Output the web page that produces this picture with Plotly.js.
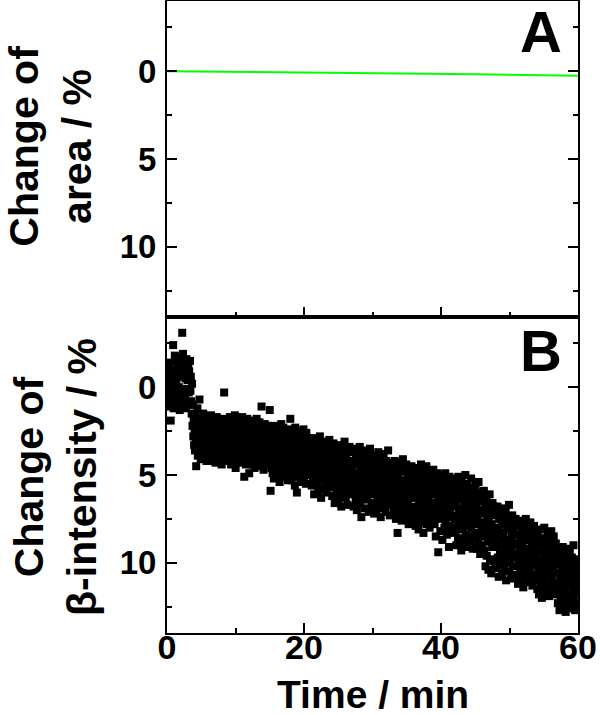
<!DOCTYPE html>
<html>
<head>
<meta charset="utf-8">
<script src="https://cdn.plot.ly/plotly-3.0.1.min.js"></script>
<style>html,body{margin:0;padding:0;background:#fff;}#chart{width:600px;height:715px;}</style>
</head>
<body>
<div id="chart"></div>
<script>
// Panel A: change of area (%) vs time (min)
var areaTime = [0, 15, 30, 45, 60];
var areaChange = [0.0, 0.05, 0.1, 0.17, 0.26];

// Panel B: change of beta-intensity (%), sampled every 0.06 min from t = 0
var betaStart = 0;
var betaStep = 0.06;
var beta00 = [-0.5,0.8,-1.2,0.2,-0.8,1.1,-1.4,0.4,-0.1,1.9,-1.0,0.6,-0.2,0.1,-0.7,-2.4,1.2,0.9,-0.3,-1.8,0.5,-0.9,1.0,-0.2,-1.5,0.7,-1.1,0.3,-1.6,0.0,-0.6,1.3,-1.7,0.4,-0.9,0.8,-1.3,-3.1,1.1,-1.9,0.2,-0.8,0.9,-1.2,0.6,-0.5,1.2,-1.6,0.1,-1.0];
var beta03 = [-0.4,0.9,-1.3,0.3,-0.9,1.0,-1.5,0.2,-0.6,0.8,1.5,-0.2,2.2,1.0,2.8,1.8,3.3,2.4,3.6,1.6,2.9,4.5,2.1,3.4,1.2,3.9,2.6,1.9,3.1,0.7,3.7,2.3,4.1,2.7,1.8,3.2,2.5,4.0,1.5,3.5,2.8,2.0,3.8,2.4,3.0,1.7,4.2,2.6,3.3,2.2];
var beta06 = [2.6,3.8,1.9,3.3,4.2,2.2,3.0,1.6,3.6,2.8,4.0,2.4,3.2,1.8,3.9,2.7,3.4,2.0,4.3,2.9,3.1,1.7,3.7,2.5,3.3,4.1,2.1,2.9,3.5,1.9,3.8,2.6,3.0,4.4,2.3,3.2,1.8,3.6,2.7,0.3,3.9,2.4,3.1,2.0,4.2,2.8,3.4,2.2,3.7,2.5];
var beta09 = [3.5,2.2,4.1,1.7,3.0,2.6,4.4,2.0,3.3,3.8,1.8,2.9,4.0,2.4,3.6,1.6,3.2,4.6,2.3,3.0,3.7,2.1,4.2,2.7,3.4,1.9,3.9,2.5,3.1,4.3,2.2,3.6,2.8,1.7,4.0,3.3,2.4,3.8,5.1,2.0,3.5,2.9,4.4,2.6,3.2,1.8,3.9,2.3,3.4,4.1];
var beta12 = [4.9,2.6,3.9,2.1,3.5,4.4,2.8,3.2,1.9,4.1,3.0,2.4,3.7,4.6,2.2,3.4,2.9,4.0,1.8,3.6,2.5,4.3,3.1,2.7,3.8,2.0,4.5,3.3,2.6,3.9,1.1,3.5,4.2,2.3,3.0,4.7,2.8,3.6,2.1,4.0,3.2,2.5,3.9,4.4,2.7,3.4,2.2,4.1,3.0,3.6];
var beta15 = [1.3,4.2,5.9,3.1,4.6,2.5,3.8,4.9,2.9,3.4,5.2,2.2,4.0,3.6,4.7,2.7,3.3,5.0,2.4,4.3,3.9,2.8,4.5,3.2,5.4,2.6,3.7,4.1,2.1,4.8,3.5,3.0,4.4,2.3,5.1,3.8,2.9,4.6,3.4,2.5,4.9,3.1,4.0,2.7,5.3,3.6,4.2,2.4,3.9,4.7];
var beta18 = [1.8,4.5,3.2,5.3,2.6,4.1,3.7,5.0,2.9,4.4,3.4,5.6,2.3,4.8,3.9,3.0,6.0,3.6,4.2,2.7,5.1,3.3,4.6,2.5,3.9,5.4,3.1,4.3,2.8,4.9,3.5,4.0,2.4,5.2,3.8,4.7,3.0,4.1,5.5,2.6,4.4,3.3,4.9,3.7,2.9,5.0,4.2,3.5,4.6,3.1];
var beta21 = [4.9,3.2,5.6,4.1,2.9,5.2,3.8,4.6,6.1,3.4,4.3,5.0,3.0,4.8,3.6,5.5,4.0,3.3,5.9,4.4,3.7,5.1,2.8,4.7,4.2,6.3,3.5,5.3,3.9,4.5,3.1,5.8,4.0,4.9,3.4,5.4,4.3,3.8,6.0,3.2,4.6,5.2,3.6,4.1,5.7,3.0,4.8,4.4,5.0,3.7];
var beta24 = [5.3,3.6,6.2,4.4,5.0,3.2,5.7,4.7,6.6,3.9,5.1,4.2,6.0,3.4,5.5,4.8,3.7,6.4,4.5,5.2,3.3,5.9,4.1,5.4,6.8,3.8,4.9,5.6,3.5,6.1,4.3,5.0,3.1,5.8,4.6,6.3,3.9,5.3,4.4,6.7,3.6,5.1,4.8,5.9,3.4,5.5,4.2,6.0,4.7,5.2];
var beta27 = [4.6,6.1,3.7,5.4,6.8,4.2,5.8,3.5,5.1,6.5,4.0,5.6,7.0,4.4,5.2,3.8,6.3,4.9,5.9,3.4,6.6,4.5,5.3,7.4,4.1,5.7,3.9,6.2,4.8,5.5,3.6,6.9,4.3,5.0,6.0,4.7,5.6,3.8,6.4,5.2,4.2,7.1,4.9,5.8,3.5,6.1,4.6,5.4,6.7,4.0];
var beta30 = [5.9,4.3,6.6,5.0,7.2,3.9,6.0,5.4,4.6,7.0,5.7,4.1,6.4,5.2,3.7,6.8,4.8,5.9,6.3,4.4,7.4,5.1,4.0,6.1,5.6,4.7,6.9,3.8,5.8,6.5,4.5,5.3,7.1,4.2,6.2,5.5,4.9,6.7,3.6,5.9,6.0,4.6,7.3,5.0,4.3,6.4,5.7,4.8,6.6,5.2];
var beta33 = [6.3,4.7,7.1,5.5,4.2,6.8,5.9,7.5,4.5,6.2,5.1,8.3,6.6,4.9,5.7,7.3,4.3,6.0,6.9,5.3,4.6,7.6,5.8,6.4,4.1,7.0,5.4,6.1,4.8,7.4,5.6,6.7,4.4,5.9,7.2,5.0,6.5,4.7,7.8,5.7,6.3,4.9,6.9,5.2,7.1,4.5,6.0,5.8,7.5,5.4];
var beta36 = [6.8,5.0,7.6,4.6,6.3,7.9,5.5,6.9,4.9,7.3,6.0,5.3,8.1,6.5,4.7,7.0,5.8,6.6,4.4,7.7,6.2,5.1,7.2,5.7,8.3,4.8,6.7,6.1,7.5,5.4,6.4,4.5,7.8,5.9,6.9,5.2,7.1,6.3,4.8,8.0,5.6,6.6,7.4,5.0,6.0,7.7,5.5,6.8,4.7,7.2];
var beta39 = [6.1,7.8,5.2,7.0,8.5,5.8,6.6,4.9,7.4,6.3,9.4,5.5,7.1,6.8,5.0,8.2,6.0,7.5,5.6,6.9,8.7,5.3,7.2,6.4,5.9,8.0,6.7,4.9,7.7,6.2,5.4,8.4,6.9,7.3,5.7,6.5,9.1,5.1,7.0,6.1,7.9,5.8,6.6,8.3,5.2,7.4,6.8,5.5,8.0,6.3];
var beta42 = [7.5,5.4,8.2,6.6,9.0,5.9,7.3,6.2,8.6,5.1,7.8,6.9,5.6,8.9,7.0,6.4,9.3,5.3,7.6,6.0,8.1,7.2,5.8,8.7,6.5,7.4,5.0,8.4,6.8,7.9,5.5,9.1,6.3,7.1,8.5,5.7,7.7,6.1,8.8,6.7,5.2,8.0,7.3,6.4,9.2,5.9,7.5,6.6,8.3,7.0];
var beta45 = [7.8,5.6,8.6,6.9,9.2,6.2,7.5,8.9,5.4,7.1,8.3,6.5,9.5,7.0,6.0,8.1,7.7,9.0,6.4,8.5,7.2,5.9,9.3,7.9,6.7,10.2,8.0,6.3,9.6,7.4,8.8,6.9,10.4,7.6,8.2,6.1,9.8,8.5,7.1,10.6,7.8,9.1,6.6,8.7,9.9,7.3,8.4,6.8,10.1,8.0];
var beta48 = [8.4,10.3,7.0,9.1,6.8,9.7,8.2,10.8,7.5,8.9,9.5,7.2,10.1,8.6,7.8,10.6,9.0,6.9,9.9,8.3,7.6,10.4,8.8,9.3,7.1,11.0,8.0,9.6,7.4,10.0,8.7,9.2,6.7,10.5,8.1,9.8,7.7,9.4,10.9,8.5,7.3,9.0,10.2,8.2,9.7,7.9,10.7,8.9,7.5,9.5];
var beta51 = [9.0,10.8,7.8,9.6,11.2,8.4,10.1,7.6,9.3,10.5,8.8,11.0,9.8,8.1,10.3,9.1,7.9,11.4,8.6,9.9,10.6,8.3,9.5,7.5,10.9,9.2,8.7,10.2,9.7,8.0,11.1,9.4,8.5,10.4,7.7,9.8,10.7,8.9,9.3,11.3,8.2,10.0,9.6,7.9,10.8,9.1,8.6,11.0,9.5,10.1];
var beta54 = [9.7,11.5,8.3,10.4,8.9,11.8,9.9,10.7,8.1,11.2,10.0,9.4,12.0,8.6,10.9,9.2,11.4,10.3,8.0,11.0,9.6,10.6,8.8,11.7,9.8,10.2,8.4,11.3,10.5,9.1,11.9,8.7,10.1,9.5,11.6,8.2,10.8,9.9,11.1,9.0,10.4,8.5,11.5,9.7,10.0,11.8,8.9,10.6,9.3,11.2];
var beta57 = [10.6,12.3,9.3,11.4,10.1,12.7,9.8,11.0,12.0,9.5,11.7,10.4,12.5,9.1,11.2,10.8,12.2,9.9,11.5,10.3,12.8,9.6,11.1,10.7,12.4,9.2,11.8,10.0,12.1,10.9,9.4,12.6,11.3,10.2,11.9,9.7,12.3,10.5,11.6,9.0,12.0,10.8,11.4,12.7,9.8,11.1,10.4,12.4,10.1,11.7];

var betaChange = [].concat(beta00, beta03, beta06, beta09, beta12, beta15, beta18, beta21, beta24, beta27,
  beta30, beta33, beta36, beta39, beta42, beta45, beta48, beta51, beta54, beta57);

var xTickVals = [0, 20, 40, 60];
var xTickText = ['0', '20', '40', '60'];
var yTickVals = [0, 5, 10];
var yTickText = ['0', '5', '10'];

var FONT = 'Liberation Sans, Arial, Helvetica, sans-serif';

var traces = [
  {
    x: areaTime, y: areaChange, xaxis: 'x2', yaxis: 'y',
    type: 'scatter', mode: 'lines',
    line: {color: '#00ff00', width: 2},
    hoverinfo: 'skip', showlegend: false
  },
  {
    x0: betaStart, dx: betaStep, y: betaChange, xaxis: 'x', yaxis: 'y2',
    type: 'scatter', mode: 'markers',
    marker: {symbol: 'square', size: 8, color: '#000000', line: {width: 0}},
    hoverinfo: 'skip', showlegend: false
  }
];

function yAxis(domain) {
  return {
    domain: domain, range: [14, -4],
    tickmode: 'array', tickvals: yTickVals, ticktext: yTickText,
    ticks: 'inside', ticklen: 10, tickwidth: 2, tickcolor: '#000',
    minor: {dtick: 2.5, tick0: 0, ticks: 'inside', ticklen: 5, tickwidth: 2, tickcolor: '#000'},
    showline: true, linecolor: '#000', linewidth: 2, mirror: 'ticks',
    showgrid: false, zeroline: false,
    tickfont: {family: FONT, size: 33, color: '#000', weight: 'bold'},
    ticklabelstandoff: 2
  };
}
function xAxis(anchor, labels) {
  return {
    anchor: anchor, domain: [0, 1], range: [0, 60],
    tickmode: 'array', tickvals: xTickVals, ticktext: xTickText,
    ticks: 'inside', ticklen: 10, tickwidth: 2, tickcolor: '#000',
    minor: {dtick: 10, tick0: 0, ticks: 'inside', ticklen: 5, tickwidth: 2, tickcolor: '#000'},
    showline: true, linecolor: '#000', linewidth: 2, mirror: true,
    showgrid: false, zeroline: false,
    showticklabels: labels,
    tickfont: {family: FONT, size: 34, color: '#000', weight: 'bold'}
  };
}

var xa = xAxis('y2', true);
xa.ticklabelstandoff = -17;
var xa2 = xAxis('y', false);
xa2.matches = 'x';

var layout = {
  width: 600, height: 715,
  margin: {l: 167, r: 22, t: 1, b: 82, pad: 0},
  paper_bgcolor: '#fff', plot_bgcolor: '#fff',
  showlegend: false,
  xaxis: xa,
  xaxis2: xa2,
  yaxis: yAxis([0.5, 1]),
  yaxis2: yAxis([0, 0.5]),
  annotations: [
    {text: 'Time / min', xref: 'paper', yref: 'paper', x: 0.5, y: -0.097,
     xanchor: 'center', yanchor: 'middle', showarrow: false, borderpad: 0,
     font: {family: FONT, size: 39, color: '#000', weight: 'bold'}},
    {text: 'Change of<br>area / %', xref: 'paper', yref: 'paper', x: -0.284, y: 0.77,
     xanchor: 'center', yanchor: 'middle', textangle: -90, showarrow: false, align: 'center',
     font: {family: FONT, size: 41, color: '#000', weight: 'bold'}},
    {text: 'Change of<br>β-intensity / %', xref: 'paper', yref: 'paper', x: -0.27, y: 0.247,
     xanchor: 'center', yanchor: 'middle', textangle: -90, showarrow: false, align: 'center',
     font: {family: FONT, size: 41, color: '#000', weight: 'bold'}},
    {text: 'A', xref: 'paper', yref: 'paper', x: 0.965, y: 0.952,
     xanchor: 'right', yanchor: 'middle', showarrow: false,
     font: {family: FONT, size: 58, color: '#000', weight: 'bold'}},
    {text: 'B', xref: 'paper', yref: 'paper', x: 0.965, y: 0.447,
     xanchor: 'right', yanchor: 'middle', showarrow: false,
     font: {family: FONT, size: 58, color: '#000', weight: 'bold'}}
  ]
};

Plotly.newPlot('chart', traces, layout, {displayModeBar: false, staticPlot: true});
</script>
</body>
</html>
